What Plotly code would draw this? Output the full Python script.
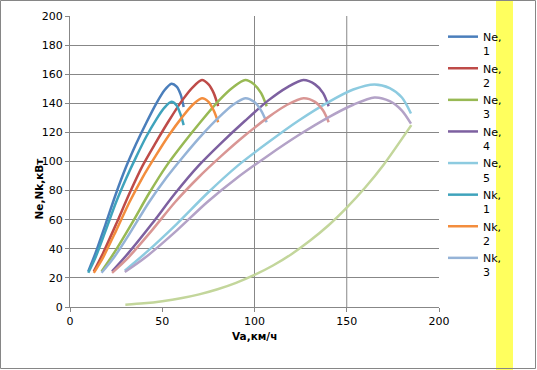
import plotly.graph_objects as go

# speeds per gear (km/h)
v1 = [9.9, 13.8, 19.3, 24.8, 30.3, 35.8, 41.3, 46.8, 51.2, 55.0, 57.8, 60.0, 61.6]
v2 = [12.9, 17.9, 25.0, 32.2, 39.3, 46.5, 53.6, 60.8, 66.5, 71.5, 75.1, 77.9, 80.3]
v3 = [17.1, 23.8, 33.3, 42.8, 52.3, 61.8, 71.3, 80.8, 88.4, 95.0, 99.8, 103.6, 106.6]
v4 = [22.8, 31.6, 44.3, 56.9, 69.6, 82.2, 94.9, 107.5, 117.7, 126.5, 132.8, 137.2, 140.2]
v5 = [29.7, 41.3, 57.8, 74.3, 90.8, 107.3, 123.8, 140.3, 153.5, 165.0, 173.3, 179.9, 184.8]

# engine power Ne (kW)
ne1 = [24.5, 37, 57, 77.5, 96, 112, 126.5, 140, 149, 153.5, 151.5, 146, 137.5]
ne2 = [24.5, 37, 57, 78, 97, 113, 128, 142, 151, 156, 153, 147, 138]
ne3 = [24.5, 37, 57, 78, 97, 113, 128, 142, 151, 156, 153, 147, 138]
ne4 = [24.5, 37, 57, 78, 97, 113, 128, 142, 151, 156, 153, 147, 138]
ne5 = [25, 37.5, 57, 78, 97, 113, 128, 141, 149.5, 153, 150.5, 144, 133]

# wheel power Nk (kW)
nk1 = [23.5, 34, 52.5, 71.5, 88, 103, 117, 129, 137, 141, 138.5, 132, 125]
nk2 = [23.5, 34, 52.5, 72, 89, 104, 118, 130.5, 139, 143.5, 141, 135, 127]
nk3 = [23.5, 34, 52.5, 72, 89, 104, 118, 130.5, 139, 143.5, 141, 135, 127]
nk4 = [23.5, 34, 52.5, 72, 89, 104, 118, 130.5, 139, 143.5, 141, 135, 127]
nk5 = [24, 34.5, 52.5, 72, 89, 104, 118, 130.5, 139, 144, 141.5, 135, 126]

# resistance power
vr = [30, 40, 50, 60, 70, 80, 90, 100, 110, 120, 130, 140, 150, 160, 170, 185]
nr = [1.5, 2.5, 4, 6, 8.7, 12.2, 16.6, 22, 28.5, 36.3, 45.5, 56, 68.3, 82.1, 97.8, 125]

series = [
    ("Ne,<br>1", v1, ne1, "#4A7EBB", True),
    ("Ne,<br>2", v2, ne2, "#BE4B48", True),
    ("Ne,<br>3", v3, ne3, "#98B954", True),
    ("Ne,<br>4", v4, ne4, "#7D60A0", True),
    ("Ne,<br>5", v5, ne5, "#8DCBE0", True),
    ("Nk,<br>1", v1, nk1, "#3FA3BC", True),
    ("Nk,<br>2", v2, nk2, "#F38D3D", True),
    ("Nk,<br>3", v3, nk3, "#95B3D7", True),
    ("Nk,<br>4", v4, nk4, "#D99694", False),
    ("Nk,<br>5", v5, nk5, "#B3A2C7", False),
    ("Nψ+Nw", vr, nr, "#C3D69B", False),
]

fig = go.Figure()
for name, x, y, col, show in series:
    fig.add_trace(go.Scatter(x=x, y=y, mode="lines", name=name,
                             line=dict(color=col, width=2.5, shape="spline", smoothing=0.8),
                             showlegend=show))

W, H = 537, 370
L, R, T, B = 70, 98, 16, 63
pw, ph = W - L - R, H - T - B

def px(xp):
    return (xp - L) / pw

def py(yp):
    return (H - B - yp) / ph

grid = "#878787"
fig.update_layout(
    width=W, height=H,
    margin=dict(l=L, r=R, t=T, b=B, autoexpand=False),
    paper_bgcolor="white", plot_bgcolor="white",
    font=dict(family="DejaVu Sans", size=11, color="black"),
    xaxis=dict(range=[0, 200], tickvals=[0, 50, 100, 150, 200], showgrid=False,
               showline=True, linecolor=grid, linewidth=1, ticks="outside",
               ticklen=4, tickcolor=grid, zeroline=False,
               tickfont=dict(size=11, family="DejaVu Sans")),
    yaxis=dict(range=[0, 200], dtick=20, showgrid=True, gridcolor=grid, gridwidth=1,
               showline=True, linecolor=grid, linewidth=1, ticks="outside",
               ticklen=4, tickcolor=grid, zeroline=False,
               tickfont=dict(size=11, family="DejaVu Sans")),
    legend=dict(x=px(443), y=py(23), xanchor="left", yanchor="top", valign="top",
                font=dict(size=11, family="DejaVu Sans"), bgcolor="rgba(0,0,0,0)",
                tracegroupgap=0, itemwidth=30),
    showlegend=True,
)

for xv in [100, 150]:
    fig.add_shape(type="line", x0=xv, x1=xv, y0=0, y1=200, xref="x", yref="y",
                  line=dict(color=grid, width=1), layer="below")

# yellow band
fig.add_shape(type="rect", xref="paper", yref="paper", x0=px(496), x1=px(513),
              y0=py(370), y1=py(0), fillcolor="#FFFF5E", line=dict(width=0), layer="below")
# outer border
fig.add_shape(type="rect", xref="paper", yref="paper", x0=px(0.5), x1=px(535.5),
              y0=py(368.5), y1=py(0.5), line=dict(color="#868686", width=1), layer="above")

fig.add_annotation(text="<b>Ne,Nk,кВт</b>", textangle=-90, xref="paper", yref="paper",
                   x=px(30), y=py(188.5), showarrow=False,
                   font=dict(size=10.5, family="DejaVu Sans"))
fig.add_annotation(text="<b>Va,км/ч</b>", xref="paper", yref="paper",
                   x=px(254.5), y=py(344), showarrow=False,
                   font=dict(size=10.5, family="DejaVu Sans"))

fig.write_html("out.html", config={"displayModeBar": False},
               post_script="document.body.style.margin='0';document.body.style.overflow='hidden';")
